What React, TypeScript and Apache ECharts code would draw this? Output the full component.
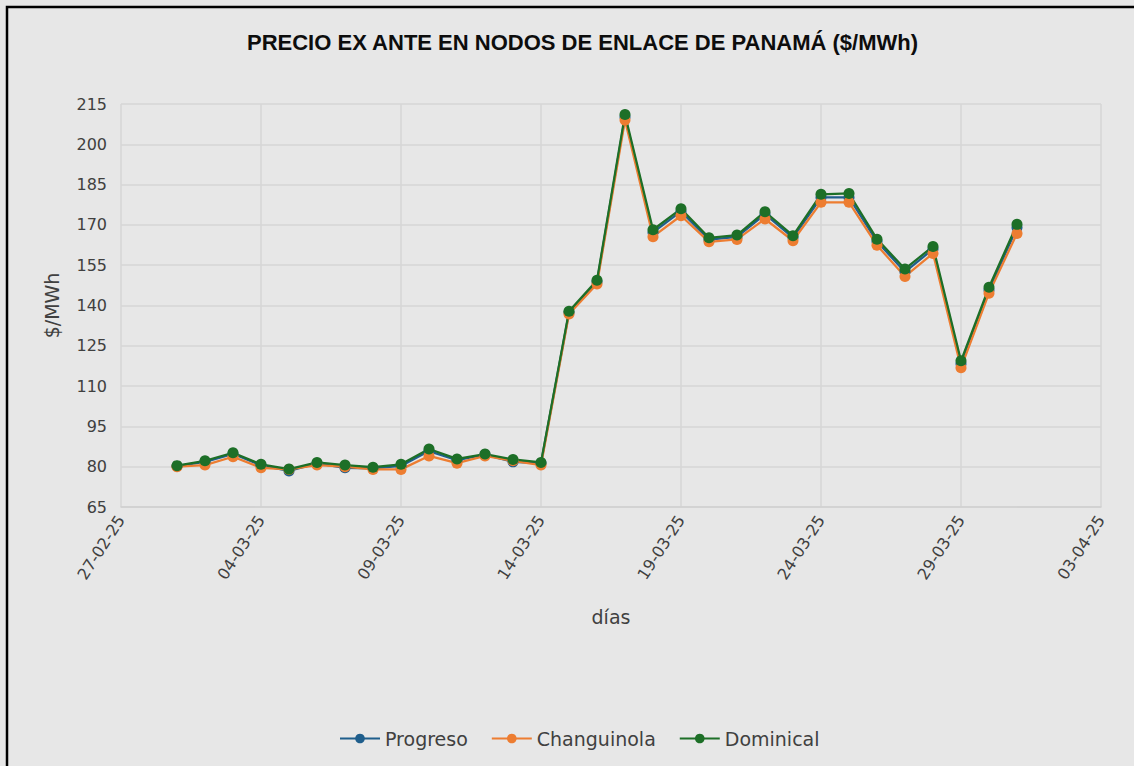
import React, { useEffect, useRef } from "react";
import * as echarts from "echarts";

const dias: string[] = [
  "01-03-25", "02-03-25", "03-03-25", "04-03-25", "05-03-25", "06-03-25", "07-03-25",
  "08-03-25", "09-03-25", "10-03-25", "11-03-25", "12-03-25", "13-03-25", "14-03-25",
  "15-03-25", "16-03-25", "17-03-25", "18-03-25", "19-03-25", "20-03-25", "21-03-25",
  "22-03-25", "23-03-25", "24-03-25", "25-03-25", "26-03-25", "27-03-25", "28-03-25",
  "29-03-25", "30-03-25", "31-03-25",
];

const progreso: number[] = [
  80.2, 81.8, 84.8, 80.5, 78.4, 81.2, 79.6, 79.4, 80.3, 85.8, 82.4, 84.5, 81.8, 81.3,
  137.4, 148.8, 210.2, 167.2, 175.0, 164.5, 165.5, 174.0, 165.3, 180.2, 180.2, 163.8,
  152.5, 161.0, 118.3, 145.8, 169.0,
];

const changuinola: number[] = [
  80.0, 80.6, 83.7, 79.6, 79.0, 80.6, 80.0, 79.0, 79.0, 84.0, 81.3, 84.0, 82.2, 80.6,
  136.8, 148.0, 209.0, 165.6, 173.4, 163.7, 164.6, 172.2, 164.1, 178.4, 178.4, 162.4,
  150.8, 159.4, 116.8, 144.6, 166.8,
];

const dominical: number[] = [
  80.4, 82.2, 85.2, 80.9, 79.1, 81.6, 80.6, 79.8, 80.9, 86.6, 82.9, 84.7, 82.7, 81.6,
  137.9, 149.4, 211.1, 168.2, 176.0, 165.2, 166.2, 174.9, 166.0, 181.4, 181.7, 164.7,
  153.6, 162.0, 119.4, 146.8, 170.2,
];

const yTicks = { min: 65, max: 215, interval: 15 };
const xRange = { start: "27-02-25", end: "03-04-25", stepDays: 5 };

const DAY = 86400000;
const toTime = (s: string) => {
  const [d, m, y] = s.split("-").map(Number);
  return Date.UTC(2000 + y, m - 1, d);
};
const axisStart = toTime(xRange.start);
const dayIndex = (s: string) => Math.round((toTime(s) - axisStart) / DAY);
const fmt = (idx: number) => {
  const dt = new Date(axisStart + idx * DAY);
  const dd = String(dt.getUTCDate()).padStart(2, "0");
  const mm = String(dt.getUTCMonth() + 1).padStart(2, "0");
  const yy = String(dt.getUTCFullYear() % 100).padStart(2, "0");
  return `${dd}-${mm}-${yy}`;
};

const FONT = "DejaVu Sans";
const TXT = "#404040";

export default function App() {
  const ref = useRef<HTMLDivElement>(null);
  useEffect(() => {
    if (!ref.current) return;
    const chart = echarts.init(ref.current, undefined, { renderer: "svg" });
    const mk = (name: string, vals: number[], color: string) => ({
      name,
      type: "line",
      data: dias.map((d, i) => [dayIndex(d), vals[i]]),
      symbol: "circle",
      symbolSize: 11,
      lineStyle: { width: 2.25, color },
      itemStyle: { color },
      color,
    });
    chart.setOption({
      animation: false,
      backgroundColor: "#e7e7e7",
      title: {
        text: "PRECIO EX ANTE EN NODOS DE ENLACE DE PANAMÁ ($/MWh)",
        left: 242,
        top: 26,
        textStyle: {
          fontFamily: "Liberation Sans",
          fontWeight: "bold",
          fontSize: 22,
          color: "#0d0d0d",
        },
      },
      legend: {
        bottom: 13,
        left: 334,
        itemWidth: 40,
        itemHeight: 12,
        itemGap: 23,
        textStyle: { fontFamily: FONT, fontSize: 19, color: TXT },
        data: ["Progreso", "Changuinola", "Dominical"],
      },
      grid: { left: 121, right: 33, top: 104, bottom: 259, containLabel: false },
      xAxis: {
        type: "value",
        min: 0,
        max: dayIndex(xRange.end),
        interval: xRange.stepDays,
        name: "días",
        nameLocation: "middle",
        nameGap: 100,
        nameTextStyle: { fontFamily: FONT, fontSize: 19, color: TXT },
        axisLine: { show: true, lineStyle: { color: "#d0d0d0", width: 1.5 } },
        axisTick: { show: false },
        splitLine: { show: true, lineStyle: { color: "#d6d6d6", width: 1.5 } },
        axisLabel: {
          rotate: 57,
          margin: 10,
          formatter: (v: number) => fmt(v),
          fontFamily: FONT,
          fontSize: 16,
          color: TXT,
        },
      },
      yAxis: {
        type: "value",
        min: yTicks.min,
        max: yTicks.max,
        interval: yTicks.interval,
        name: "$/MWh",
        nameLocation: "middle",
        nameGap: 60,
        nameRotate: 90,
        nameTextStyle: { fontFamily: FONT, fontSize: 19, color: TXT },
        axisLine: { show: false },
        axisTick: { show: false },
        splitLine: { show: true, lineStyle: { color: "#d6d6d6", width: 1.5 } },
        axisLabel: { fontFamily: FONT, fontSize: 16, color: TXT, margin: 14 },
      },
      graphic: [
        {
          type: "rect",
          shape: { x: 7, y: 7, width: 1300, height: 900 },
          style: { fill: "none", stroke: "#000", lineWidth: 2.5 },
          silent: true,
        },
      ],
      series: [
        mk("Progreso", progreso, "#1f5e8c"),
        mk("Changuinola", changuinola, "#ed7d31"),
        mk("Dominical", dominical, "#1d6f27"),
      ],
    });
    return () => chart.dispose();
  }, []);
  return (
    <div
      ref={ref}
      style={{ position: "absolute", left: 0, top: 0, width: 1134, height: 766 }}
    />
  );
}
